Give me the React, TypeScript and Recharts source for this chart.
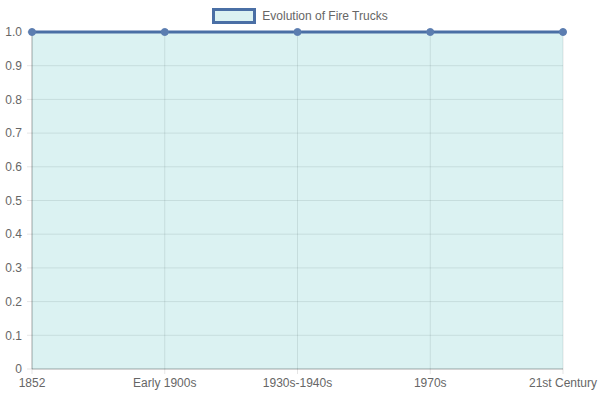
import React from "react"
import { AreaChart, Area, XAxis, YAxis, CartesianGrid } from "recharts"

const categories = ["1852", "Early 1900s", "1930s-1940s", "1970s", "21st Century"]
const values = [1, 1, 1, 1, 1]
const yTicks = [0, 0.1, 0.2, 0.3, 0.4, 0.5, 0.6, 0.7, 0.8, 0.9, 1.0]
const seriesName = "Evolution of Fire Trucks"

const data = categories.map((name, i) => ({ name, value: values[i] }))

const fmtY = (v: number) => (v === 0 ? "0" : v.toFixed(1))

const tickStyle = { fill: "#666", fontSize: 12, fontFamily: "'Liberation Sans', Arial, sans-serif" }

export default function App() {
  return (
    <div style={{ position: "absolute", left: 0, top: 0, width: 600, height: 400, background: "#fff" }}>
      <div
        style={{
          position: "absolute",
          top: 8,
          left: 0,
          width: 600,
          display: "flex",
          justifyContent: "center",
          alignItems: "center",
          fontFamily: "'Liberation Sans', Arial, sans-serif",
          fontSize: 12,
          color: "#666",
        }}
      >
        <span
          style={{
            display: "inline-block",
            width: 38,
            height: 10,
            background: "rgba(75,192,192,0.2)",
            border: "3px solid #4a6fa5",
            marginRight: 6,
          }}
        />
        <span>{seriesName}</span>
      </div>
      <AreaChart
        width={600}
        height={400}
        data={data}
        margin={{ top: 32, right: 37, bottom: 0, left: 0 }}
      >
        <CartesianGrid stroke="rgba(0,0,0,0.1)" />
        <XAxis
          dataKey="name"
          interval={0}
          height={31}
          tickSize={5}
          tickMargin={4}
          tick={tickStyle}
          stroke="rgba(0,0,0,0.25)"
          tickLine={{ stroke: "rgba(0,0,0,0.1)" }}
        />
        <YAxis
          width={32}
          domain={[0, 1]}
          ticks={yTicks}
          tickFormatter={fmtY}
          tickSize={5}
          tickMargin={5}
          tick={tickStyle}
          stroke="rgba(0,0,0,0.25)"
          tickLine={{ stroke: "rgba(0,0,0,0.1)" }}
        />
        <Area
          type="linear"
          dataKey="value"
          name={seriesName}
          stroke="#4a6fa5"
          strokeWidth={3}
          fill="rgba(75,192,192,0.2)"
          fillOpacity={1}
          dot={{ r: 3.5, fill: "#5b7db0", stroke: "#5b7db0", strokeWidth: 1 }}
          isAnimationActive={false}
        />
      </AreaChart>
    </div>
  )
}
